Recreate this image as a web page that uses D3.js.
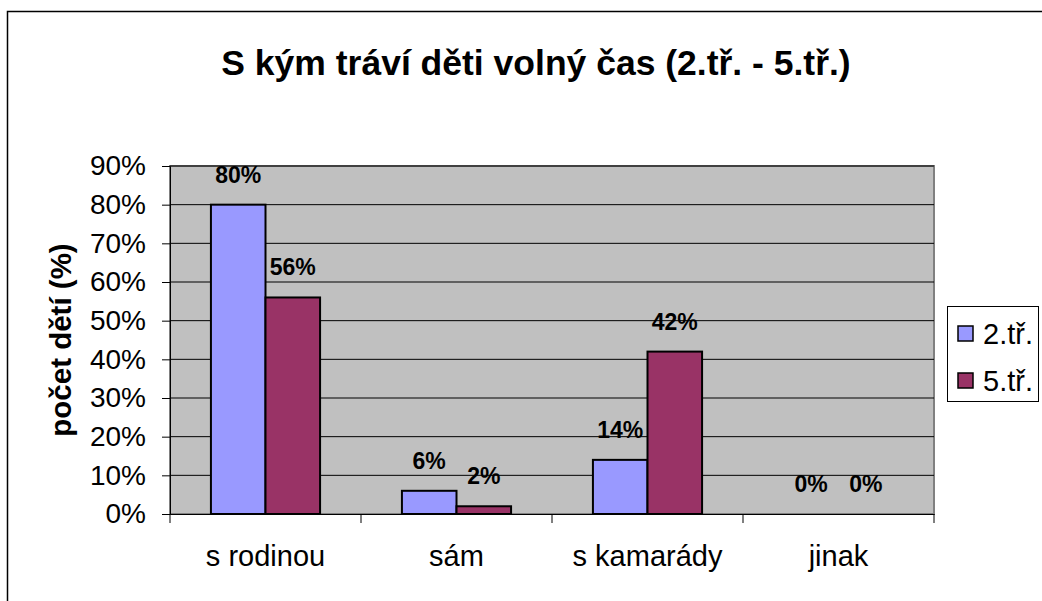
<!DOCTYPE html>
<html>
<head>
<meta charset="utf-8">
<script src="https://cdn.jsdelivr.net/npm/d3@7"></script>
<style>
  body { margin: 0; background: #fff; }
  svg { display: block; font-family: "Liberation Sans", Arial, sans-serif; }
</style>
</head>
<body>
<svg id="chart" width="1042" height="601"></svg>
<script>
// data
const categories = ["s rodinou", "sám", "s kamarády", "jinak"];
const seriesNames = ["2.tř.", "5.tř."];
const values2 = [0.80, 0.06, 0.14, 0.00];
const values5 = [0.56, 0.02, 0.42, 0.00];
const yTicks = [0, 0.1, 0.2, 0.3, 0.4, 0.5, 0.6, 0.7, 0.8, 0.9];
const colors = ["#9999ff", "#993366"];

const title = "S kým tráví děti volný čas (2.tř. - 5.tř.)";
const yTitle = "počet dětí (%)";

const svg = d3.select("#chart");
const m = {top: 166, right: 108, bottom: 87, left: 170};
const W = 1042, H = 601;

// outer chart frame (runs off the right and bottom edge like the original)
svg.append("rect")
    .attr("x", 7.5).attr("y", 11.5)
    .attr("width", 1100).attr("height", 700)
    .attr("fill", "#fff").attr("stroke", "#000").attr("stroke-width", 1.5);

const x = d3.scaleBand().domain(categories).range([m.left, W - m.right]);
const xs = d3.scaleBand().domain(seriesNames).range([0, x.bandwidth()])
    .paddingInner(0).paddingOuter(0.75);
const y = d3.scaleLinear().domain([0, 0.9]).range([H - m.bottom, m.top]);

// plot area
svg.append("rect")
    .attr("x", m.left).attr("y", m.top)
    .attr("width", W - m.right - m.left).attr("height", y(0) - m.top)
    .attr("fill", "#c0c0c0").attr("stroke", "#808080").attr("stroke-width", 2);

// gridlines
svg.append("g").selectAll("line")
    .data(yTicks.slice(1))
    .join("line")
    .attr("x1", m.left).attr("x2", W - m.right)
    .attr("y1", d => y(d)).attr("y2", d => y(d))
    .attr("stroke", "#000").attr("stroke-width", 1);

// y axis
const yAxis = d3.axisLeft(y).tickValues(yTicks)
    .tickFormat(d3.format(".0%")).tickSize(8).tickPadding(16);
svg.append("g").attr("transform", `translate(${m.left},0)`)
    .call(yAxis)
    .call(g => g.selectAll("text").attr("font-size", 28).attr("fill", "#000")
        .attr("font-family", "Liberation Sans, Arial, sans-serif"))
    .call(g => g.selectAll("line, path").attr("stroke", "#000"));

// x axis
const xAxis = d3.axisBottom(x).tickSize(0).tickPadding(0);
const gx = svg.append("g").attr("transform", `translate(0,${y(0)})`).call(xAxis);
gx.select(".domain").attr("stroke", "#000");
gx.selectAll("text").attr("font-size", 29).attr("fill", "#000").attr("dy", null)
    .attr("y", 52)
    .attr("font-family", "Liberation Sans, Arial, sans-serif");
// tick marks at the category boundaries
gx.selectAll("line.boundary")
    .data(categories.map(c => x(c)).concat([x(categories[categories.length - 1]) + x.bandwidth()]))
    .join("line")
    .attr("class", "boundary")
    .attr("x1", d => d).attr("x2", d => d)
    .attr("y1", 0).attr("y2", 9)
    .attr("stroke", "#000");

// bars
const rows = categories.map((c, i) => ({cat: c, vals: [values2[i], values5[i]]}));
const groups = svg.append("g").selectAll("g")
    .data(rows)
    .join("g")
    .attr("transform", d => `translate(${x(d.cat)},0)`);

groups.selectAll("rect")
    .data(d => d.vals.map((v, k) => ({s: seriesNames[k], v, k})))
    .join("rect")
    .filter(d => d.v > 0)
    .attr("x", d => xs(d.s))
    .attr("width", xs.bandwidth())
    .attr("y", d => y(d.v))
    .attr("height", d => y(0) - y(d.v))
    .attr("fill", d => colors[d.k])
    .attr("stroke", "#000").attr("stroke-width", 2);

groups.selectAll("text")
    .data(d => d.vals.map((v, k) => ({s: seriesNames[k], v, k})))
    .join("text")
    .attr("x", d => xs(d.s) + xs.bandwidth() / 2)
    .attr("y", d => y(d.v) - 22)
    .attr("text-anchor", "middle")
    .attr("font-size", 23).attr("font-weight", "bold")
    .text(d => d3.format(".0%")(d.v));

// title
svg.append("text")
    .attr("x", 536).attr("y", 75)
    .attr("text-anchor", "middle")
    .attr("font-size", 35.5).attr("font-weight", "bold")
    .text(title);

// y axis title
svg.append("text")
    .attr("transform", `translate(71,${(y(0) + m.top) / 2}) rotate(-90)`)
    .attr("text-anchor", "middle")
    .attr("font-size", 29.5).attr("font-weight", "bold")
    .text(yTitle);

// legend
const lg = svg.append("g").attr("transform", "translate(947,306)");
lg.append("rect")
    .attr("x", 0.5).attr("y", 0.5).attr("width", 91).attr("height", 95)
    .attr("fill", "#fff").attr("stroke", "#000").attr("stroke-width", 1);
const items = lg.selectAll("g.item")
    .data(seriesNames)
    .join("g").attr("class", "item")
    .attr("transform", (d, i) => `translate(11,${20 + i * 47})`);
items.append("rect")
    .attr("width", 15).attr("height", 15)
    .attr("fill", (d, i) => colors[i])
    .attr("stroke", "#000").attr("stroke-width", 1.5);
items.append("text")
    .attr("x", 25).attr("y", 18)
    .attr("font-size", 29)
    .text(d => d);
</script>
</body>
</html>
